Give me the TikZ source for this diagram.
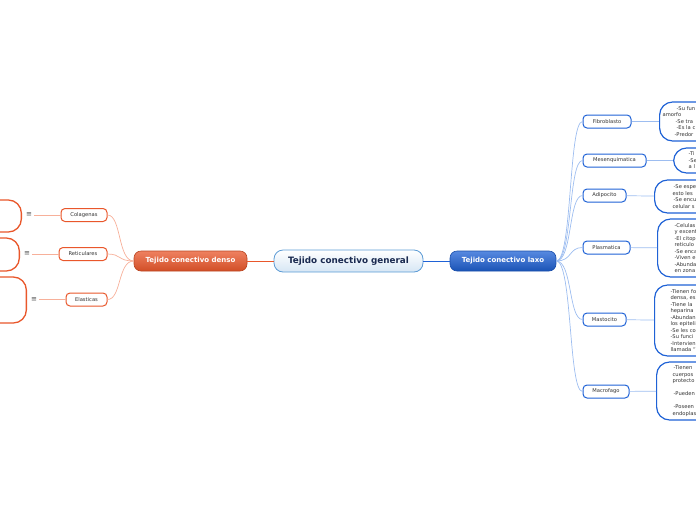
\documentclass[tikz,border=0pt]{standalone}
\usepackage{fontspec}
\setmainfont{DejaVu Sans}
\usetikzlibrary{positioning}

\definecolor{laxoblue}{HTML}{1F62D6}
\definecolor{laxolink}{HTML}{9DBDF0}
\definecolor{densored}{HTML}{E9572B}
\definecolor{densolink}{HTML}{F7B09A}
\definecolor{genborder}{HTML}{5B9BD5}
\definecolor{gentext}{HTML}{1A2A50}
\definecolor{leaftext}{HTML}{333333}

\begin{document}
\begin{tikzpicture}[x=1pt, y=-1pt,
  every node/.style={inner sep=0pt, text=leaftext, font=\fontsize{5.2}{6.5}\selectfont},
  mainnode/.style={draw=genborder, line width=0.8pt, rounded corners=9pt,
    top color=white, bottom color=genborder!25, minimum height=22pt,
    text=gentext, font=\fontsize{8.8}{10}\selectfont\bfseries},
  branchblue/.style={draw=laxoblue!80!black, line width=0.6pt, rounded corners=7pt,
    top color=laxoblue!75!white, bottom color=laxoblue!85!black, minimum height=20pt,
    text=white, font=\fontsize{7}{8}\selectfont\bfseries},
  branchred/.style={draw=densored!80!black, line width=0.6pt, rounded corners=7pt,
    top color=densored!75!white, bottom color=densored!90!black, minimum height=20pt,
    text=white, font=\fontsize{7}{8}\selectfont\bfseries},
  leafblue/.style={draw=laxoblue, line width=1pt, rounded corners=4pt, fill=white, minimum height=13pt},
  leafred/.style={draw=densored, line width=1pt, rounded corners=4pt, fill=white, minimum height=13pt},
  detailblue/.style={draw=laxoblue, line width=1.2pt, rounded corners=13pt, fill=white,
    anchor=west, text width=50pt, align=left},
  detailred/.style={draw=densored, line width=1.3pt, rounded corners=13pt, fill=white,
    anchor=east, minimum width=60pt},
  menu/.style={font=\fontsize{7}{7}\selectfont, text=black!70},
  bluelink/.style={draw=laxolink, line width=0.7pt},
  redlink/.style={draw=densolink, line width=0.7pt}]

  \useasboundingbox (0,0) rectangle (696,520);
  \clip (0,0) rectangle (696,520);

  % centre and main branches
  \node[mainnode, minimum width=149pt] (gen) at (348.5,261) {Tejido conectivo general};
  \node[branchblue, minimum width=106pt] (laxo) at (503,261) {Tejido conectivo laxo};
  \node[branchred, minimum width=113pt] (denso) at (190.5,261) {Tejido conectivo denso};

  \draw[laxoblue, line width=0.7pt] (gen) -- (laxo);
  \draw[densored, line width=0.7pt] (gen) -- (denso);

  % tejido conectivo laxo
  \node[leafblue, minimum width=48pt] (fib) at (607,121.5) {Fibroblasto};
  \node[leafblue, minimum width=63pt] (mes) at (614.5,160.5) {Mesenquimatica};
  \node[leafblue, minimum width=43pt] (adi) at (604.5,195.5) {Adipocito};
  \node[leafblue, minimum width=47pt] (pla) at (606.5,247.5) {Plasmatica};
  \node[leafblue, minimum width=43pt] (mas) at (604.5,319.5) {Mastocito};
  \node[leafblue, minimum width=46pt] (mac) at (606,391.5) {Macrofago};

  \foreach \leaf in {fib,mes,adi,pla,mas,mac}
    \draw[bluelink] (laxo.east) .. controls +(16,0) and +(-14,0) .. (\leaf.west);

  \node[detailblue, minimum height=39pt, inner xsep=3pt] (fibd) at (659,121.5)
    {\hspace*{14pt}-Su fun\\amorfo\\\hspace*{13pt}-Se tra\\\hspace*{14pt}-Es la c\\\hspace*{12pt}-Predor};
  \node[detailblue, minimum height=25pt, inner xsep=15pt] (mesd) at (673,160.5)
    {-Ti\\-Se\\a l};
  \node[detailblue, minimum height=33pt, inner xsep=18pt] (adid) at (654,196.5)
    {\hspace*{1pt}-Se espe\\esto les\\\hspace*{1pt}-Se encu\\celular s};
  \node[detailblue, minimum height=58pt, inner xsep=17pt] (plad) at (657,248)
    {-Celulas\\y excent\\-El citop\\reticulo\\-Se enca\\-Viven e\\-Abunda\\en zona};
  \node[detailblue, minimum height=71pt, inner xsep=16pt] (masd) at (654,320.5)
    {-Tienen fo\\densa, es\\-Tiene la\\heparina\\-Abundan\\los epiteli\\-Se les co\\-Su funci\\-Intervien\\llamada “};
  \node[detailblue, minimum height=58pt, inner xsep=16pt] (macd) at (656,391)
    {\hspace*{1pt}-Tienen\\cuerpos\\protecto\\\mbox{}\\\hspace*{1pt}-Pueden\\\mbox{}\\\hspace*{1pt}-Poseen\\endoplas};

  \draw[bluelink] (fib) -- (fibd);
  \draw[bluelink] (mes) -- (mesd);
  \draw[bluelink] (adi) -- (adid);
  \draw[bluelink] (pla) -- (plad);
  \draw[bluelink] (mas) -- (masd);
  \draw[bluelink] (mac) -- (macd);

  % tejido conectivo denso
  \node[leafred, minimum width=46pt] (col) at (84,215) {Colagenas};
  \node[leafred, minimum width=48pt] (ret) at (83,254) {Reticulares};
  \node[leafred, minimum width=41pt] (ela) at (86.5,299.5) {Elasticas};

  \foreach \leaf in {col,ret,ela}
    \draw[redlink] (denso.west) .. controls +(-16,0) and +(14,0) .. (\leaf.east);

  \node[menu] (colm) at (29,215) {≡};
  \node[menu] (retm) at (27,254) {≡};
  \node[menu] (elam) at (34,299.5) {≡};

  \draw[redlink] (colm.east) ++(2,0) -- (col.west);
  \draw[redlink] (retm.east) ++(2,0) -- (ret.west);
  \draw[redlink] (elam.east) ++(2,0) -- (ela.west);

  \node[detailred, minimum height=32pt] (cold) at (22,216) {};
  \node[detailred, minimum height=33pt] (retd) at (20,254.5) {};
  \node[detailred, minimum height=46pt] (elad) at (27,300) {};
\end{tikzpicture}
\end{document}
